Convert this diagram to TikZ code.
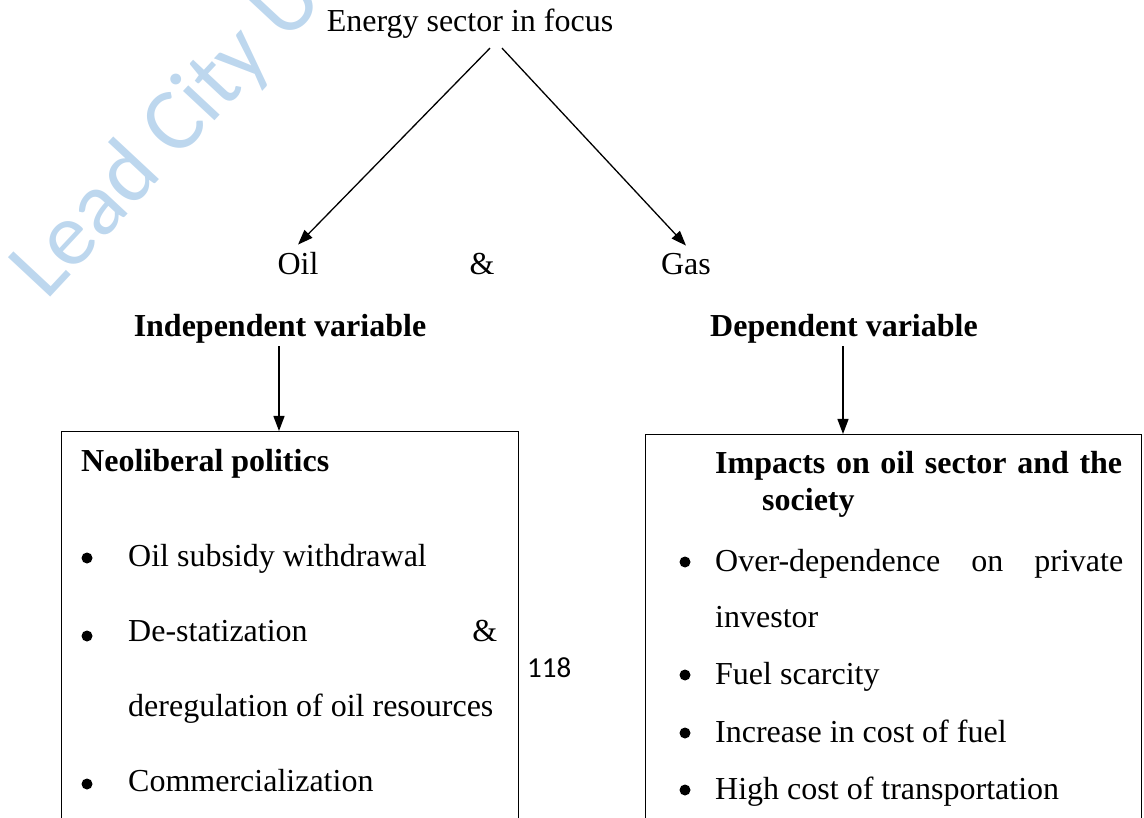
\documentclass[tikz,border=0pt]{standalone}
\usepackage{fontspec}
\setmainfont{Liberation Serif}
\newfontfamily\calibrifont{Carlito}
\usetikzlibrary{arrows.meta, positioning}
\definecolor{wmblue}{RGB}{189,215,238}
\tikzset{txt/.style={inner sep=0pt, font=\fontsize{32}{38}\selectfont},
  hdr/.style={inner sep=0pt, font=\fontsize{32}{38}\selectfont\bfseries},
  box/.style={draw, rectangle, line width=1.3pt, anchor=north west},
  dot/.style={circle, fill, inner sep=0pt, minimum size=11pt},
  arr/.style={-{Triangle[length=15pt,width=11pt]}, line width=1.3pt}}

\begin{document}
\begin{tikzpicture}[x=1pt, y=-1pt]
            \useasboundingbox (0,0) rectangle (1144,818);
            \clip (0,0) rectangle (1144,818);
            \node[rotate=47, anchor=base west, inner sep=0pt, text=wmblue, font=\calibrifont\fontsize{90}{90}\selectfont] (watermark) at (46,302) {Lead City University};

            \node[txt, anchor=base] (energy) at (470,32) {Energy sector in focus};
            \node[txt, anchor=base] (oil) at (298,275) {Oil};
            \node[txt, anchor=base] (and) at (482,275) {\&};
            \node[txt, anchor=base] (gas) at (686,275) {Gas};
            \draw[arr] ([xshift=20pt, yshift=-9pt]energy.south) -- ([yshift=8pt]oil.north);
            \draw[arr] ([xshift=32pt, yshift=-9pt]energy.south) -- ([yshift=8pt]gas.north);

            \node[hdr, anchor=base] (indep) at (280,337) {Independent variable};
            \node[hdr, anchor=base] (dep) at (844,337) {Dependent variable};

            \node[box, minimum width=457pt, minimum height=450pt] (leftbox) at (61,431) {};
            \node[box, minimum width=496pt, minimum height=450pt] (rightbox) at (645,434) {};
            \draw[arr] ([xshift=-1pt, yshift=-2pt]indep.south) -- ([xshift=-1pt]indep.south |- leftbox.north);
            \draw[arr] ([xshift=-1pt, yshift=-2pt]dep.south) -- ([xshift=-1pt]dep.south |- rightbox.north);

            % independent side
            \node[hdr, anchor=base west] (neolib) at (81,471) {Neoliberal politics};
            \node[dot] (dot-subsidy) at (87,558) {};
            \node[txt, anchor=base west] (subsidy) at (128,566) {Oil subsidy withdrawal};
            \node[dot] (dot-destat) at (87,636) {};
            \node[txt, anchor=base west] (destat) at (128,641) {\makebox[369pt][s]{De-statization \&}};
            \node[txt, anchor=base west] (dereg) at (128,716) {deregulation of oil resources};
            \node[dot] (dot-commerc) at (87,784) {};
            \node[txt, anchor=base west] (commerc) at (128,791) {Commercialization};

            \node[anchor=base west, inner sep=0pt, font=\calibrifont\fontsize{29}{29}\selectfont] (pagenum) at (527,677) {118};

            % dependent side
            \node[hdr, anchor=base west] (impacts) at (715,473) {\makebox[407pt][s]{Impacts on oil sector and the}};
            \node[hdr, anchor=base west] (society) at (762,510) {society};
            \node[dot] (dot-private) at (685,562) {};
            \node[txt, anchor=base west] (private) at (715,571) {\makebox[408pt][s]{Over-dependence on private}};
            \node[txt, anchor=base west] (investor) at (715,627) {investor};
            \node[dot] (dot-scarcity) at (685,675) {};
            \node[txt, anchor=base west] (scarcity) at (715,684) {Fuel scarcity};
            \node[dot] (dot-cost) at (685,733) {};
            \node[txt, anchor=base west] (cost) at (715,742) {Increase in cost of fuel};
            \node[dot] (dot-transport) at (685,790) {};
            \node[txt, anchor=base west] (transport) at (715,799) {High cost of transportation};
\end{tikzpicture}
\end{document}
